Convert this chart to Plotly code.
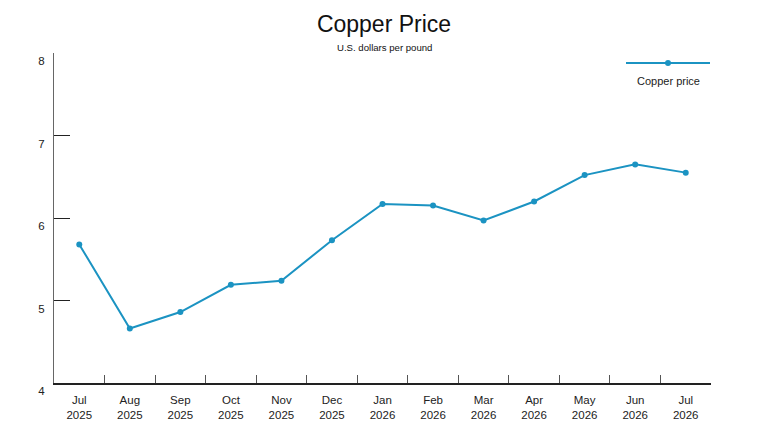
import plotly.graph_objects as go

# monthly copper price, USD per pound
months = ["Jul<br>2025", "Aug<br>2025", "Sep<br>2025", "Oct<br>2025", "Nov<br>2025",
          "Dec<br>2025", "Jan<br>2026", "Feb<br>2026", "Mar<br>2026", "Apr<br>2026",
          "May<br>2026", "Jun<br>2026", "Jul<br>2026"]
copper_price = [5.68, 4.66, 4.86, 5.19, 5.24, 5.73, 6.17, 6.15, 5.97, 6.20, 6.52, 6.65, 6.55]
y_ticks = [4, 5, 6, 7, 8]

line_color = "#1b93c2"
font_family = "Liberation Sans, Arial, sans-serif"

# page has an 8px body margin, so plot area in page pixels is 54..711 x 53..383
W, H = 768, 432
fig = go.Figure()

fig.add_trace(go.Scatter(
    x=months, y=copper_price, mode="lines+markers",
    line=dict(color=line_color, width=2),
    marker=dict(color=line_color, size=6),
    name="Copper price", showlegend=False
))

fig.update_layout(
    width=W, height=H,
    margin=dict(l=46, r=W + 8 - 711, t=45, b=H + 8 - 383),
    paper_bgcolor="white", plot_bgcolor="white",
    font=dict(family=font_family, color="#222222", size=11),
    title=dict(text="Copper Price", x=(384 - 8) / W, xanchor="center",
               y=1 - 16 / H, yanchor="middle",
               font=dict(size=23, color="#111111")),
)

fig.update_xaxes(
    type="category", tickson="boundaries", ticks="inside", ticklen=8,
    tickcolor="#555555", showline=True, linecolor="#222222", linewidth=1.5,
    showgrid=False, zeroline=False, range=[-0.5, len(months) - 0.5],
    ticklabelstandoff=5,
    tickfont=dict(size=11.5, color="#222222")
)

fig.update_yaxes(
    range=[4, 8], tickvals=y_ticks, ticks="inside", ticklen=16,
    tickcolor="#222222", showline=True, linecolor="#666666", linewidth=1,
    showgrid=False, zeroline=False, ticklabelshift=8, ticklabelstandoff=6,
    tickfont=dict(size=11.5, color="#222222")
)

# subtitle
fig.add_annotation(text="U.S. dollars per pound", xref="paper", yref="paper",
                   x=(384 - 54) / 657, y=(383 - 47) / 330, xanchor="center", yanchor="middle",
                   showarrow=False, font=dict(size=9.6, color="#111111"))

# legend drawn by hand: line sample with marker, label beneath
fig.add_shape(type="line", xref="paper", yref="paper",
              x0=(626 - 54) / 657, x1=(710 - 54) / 657, y0=(383 - 63) / 330, y1=(383 - 63) / 330,
              line=dict(color=line_color, width=2))
fig.add_shape(type="circle", xref="paper", yref="paper",
              x0=(665 - 54) / 657, x1=(671 - 54) / 657, y0=(383 - 66) / 330, y1=(383 - 60) / 330,
              fillcolor=line_color, line=dict(color=line_color, width=0))
fig.add_annotation(text="Copper price", xref="paper", yref="paper",
                   x=(668 - 54) / 657, y=(383 - 81) / 330, xanchor="center", yanchor="middle",
                   showarrow=False, font=dict(size=11, color="#222222"))

fig.write_html("out.html")
